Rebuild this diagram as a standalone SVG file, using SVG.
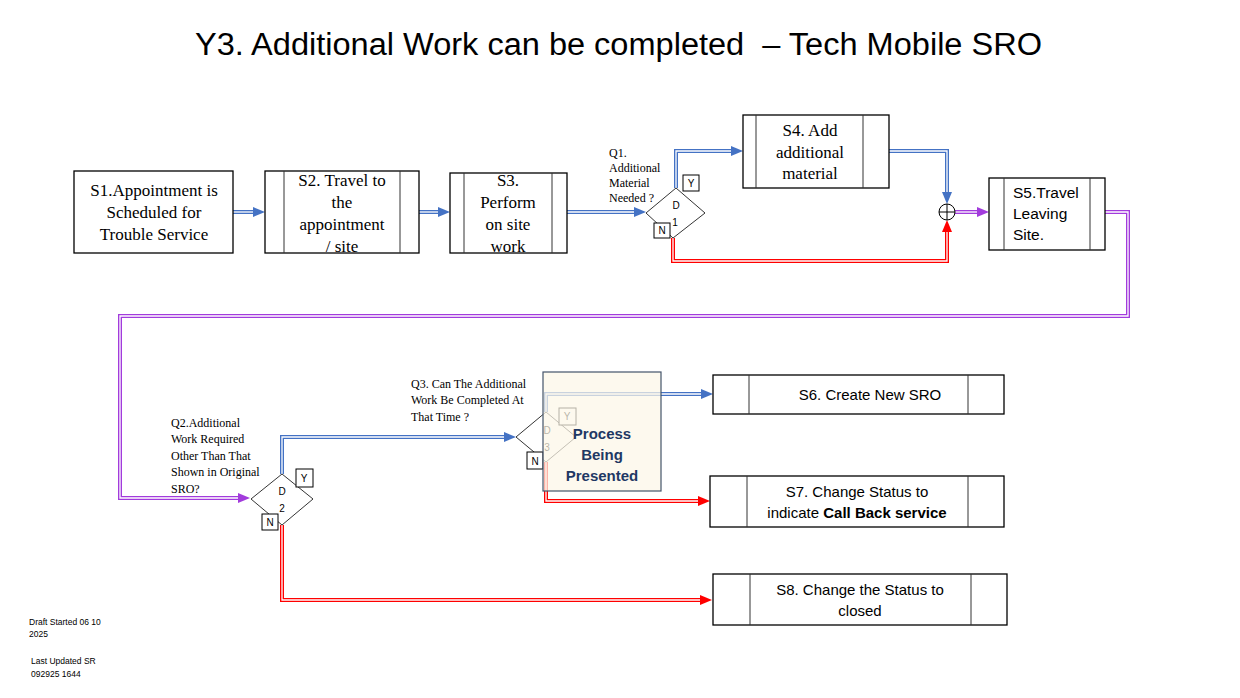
<svg xmlns="http://www.w3.org/2000/svg" width="1240" height="698" viewBox="0 0 1240 698">
<defs>
<style>
.box{fill:#fff;stroke:#000;stroke-width:1.3}
.inner{stroke:#333;stroke-width:1}
.serif{font-family:"Liberation Serif","Times New Roman",serif;font-size:17px;fill:#000;text-anchor:middle}
.q{font-family:"Liberation Serif","Times New Roman",serif;font-size:12px;fill:#000}
.sans{font-family:"Liberation Sans",Arial,sans-serif;fill:#000}
.dia{fill:#fff;stroke:#000;stroke-width:0.8}
.dl{font-family:"Liberation Sans",Arial,sans-serif;font-size:10px;fill:#000;text-anchor:middle}
.yn{fill:#fff;stroke:#000;stroke-width:1}
.ynt{font-family:"Liberation Sans",Arial,sans-serif;font-size:10px;fill:#000;text-anchor:middle}
.ob{fill:none;stroke:#4472C4;stroke-width:4}
.or{fill:none;stroke:#FF0000;stroke-width:4}
.op{fill:none;stroke:#A23BDC;stroke-width:4}
.in{fill:none;stroke:#fff;stroke-width:1.3}
.pt{font-family:"Liberation Sans",Arial,sans-serif;font-size:15px;font-weight:bold;fill:#1F3864;text-anchor:middle}
</style>
<marker id="ab" markerUnits="userSpaceOnUse" markerWidth="12" markerHeight="10" refX="0" refY="5" orient="auto"><path d="M0,0 L12,5 L0,10 z" fill="#4472C4"/></marker>
<marker id="ar" markerUnits="userSpaceOnUse" markerWidth="12" markerHeight="10" refX="0" refY="5" orient="auto"><path d="M0,0 L12,5 L0,10 z" fill="#FF0000"/></marker>
<marker id="ap" markerUnits="userSpaceOnUse" markerWidth="12" markerHeight="10" refX="0" refY="5" orient="auto"><path d="M0,0 L12,5 L0,10 z" fill="#A23BDC"/></marker>
</defs>
<rect width="1240" height="698" fill="#fff"/>
<text x="195" y="55" class="sans" font-size="31" textLength="847" lengthAdjust="spacingAndGlyphs" xml:space="preserve">Y3. Additional Work can be completed  – Tech Mobile SRO</text>

<g id="connectors">
<path class="ob" marker-end="url(#ab)" d="M233,212 H253"/><path class="in" d="M233,212 H253"/>
<path class="ob" marker-end="url(#ab)" d="M419,212 H438"/><path class="in" d="M419,212 H438"/>
<path class="ob" marker-end="url(#ab)" d="M567,212 H634"/><path class="in" d="M567,212 H634"/>
<path class="ob" marker-end="url(#ab)" d="M676,188 V151 H731"/><path class="in" d="M676,188 V151 H731"/>
<path class="ob" marker-end="url(#ab)" d="M889,151 H947 V192"/><path class="in" d="M889,151 H947 V192"/>
<path class="or" marker-end="url(#ar)" d="M673,238 V261 H947 V232"/><path class="in" d="M673,238 V261 H947 V232"/>
<path class="op" marker-end="url(#ap)" d="M955,212 H977"/><path class="in" d="M955,212 H977"/>
<path class="op" marker-end="url(#ap)" d="M1105,212 H1128 V316 H120 V498 H238"/><path class="in" d="M1105,212 H1128 V316 H120 V498 H238"/>
<path class="ob" marker-end="url(#ab)" d="M282,474 V437 H504"/><path class="in" d="M282,474 V437 H504"/>
<path class="or" marker-end="url(#ar)" d="M282,525 V600 H700"/><path class="in" d="M282,525 V600 H700"/>
<path class="ob" marker-end="url(#ab)" d="M546,412 V394 H701"/><path class="in" d="M546,412 V394 H701"/>
<path class="or" marker-end="url(#ar)" d="M546,462 V501 H698"/><path class="in" d="M546,462 V501 H698"/>
</g>

<g id="S1">
<rect class="box" x="74" y="171" width="159" height="82"/>
<text class="serif" x="154" y="196">S1.Appointment is</text>
<text class="serif" x="154" y="218">Scheduled for</text>
<text class="serif" x="154" y="240">Trouble Service</text>
</g>
<g id="S2">
<rect class="box" x="265" y="171" width="154" height="82"/>
<line class="inner" x1="284" y1="171" x2="284" y2="253"/><line class="inner" x1="400" y1="171" x2="400" y2="253"/>
<text class="serif" x="342" y="186">S2. Travel to</text>
<text class="serif" x="342" y="208">the</text>
<text class="serif" x="342" y="230">appointment</text>
<text class="serif" x="342" y="252">/ site</text>
</g>
<g id="S3">
<rect class="box" x="450" y="173" width="117" height="80"/>
<line class="inner" x1="464" y1="173" x2="464" y2="253"/><line class="inner" x1="552" y1="173" x2="552" y2="253"/>
<text class="serif" x="508" y="186">S3.</text>
<text class="serif" x="508" y="208">Perform</text>
<text class="serif" x="508" y="230">on site</text>
<text class="serif" x="508" y="252">work</text>
</g>
<g id="D1">
<polygon class="dia" points="646,213 676,188 705,213 673,238"/>
<text class="dl" x="676" y="209">D</text>
<text class="dl" x="675" y="226">1</text>
<rect class="yn" x="683" y="175" width="16" height="16"/><text class="ynt" x="691" y="187">Y</text>
<rect class="yn" x="654" y="223" width="16" height="15"/><text class="ynt" x="662" y="234">N</text>
<text class="q" x="609" y="157">Q1.</text>
<text class="q" x="609" y="172">Additional</text>
<text class="q" x="609" y="187">Material</text>
<text class="q" x="609" y="202">Needed ?</text>
</g>
<g id="S4">
<rect class="box" x="743" y="115" width="146" height="73"/>
<line class="inner" x1="756" y1="115" x2="756" y2="188"/><line class="inner" x1="863" y1="115" x2="863" y2="188"/>
<text class="serif" x="810" y="136">S4. Add</text>
<text class="serif" x="810" y="158">additional</text>
<text class="serif" x="810" y="179">material</text>
</g>
<g id="junction">
<circle cx="947" cy="212" r="8" fill="#fff" stroke="#000" stroke-width="1"/>
<line x1="939" y1="212" x2="955" y2="212" stroke="#000" stroke-width="1"/>
<line x1="947" y1="204" x2="947" y2="220" stroke="#000" stroke-width="1"/>
</g>
<g id="S5">
<rect class="box" x="989" y="178" width="116" height="72"/>
<line class="inner" x1="1004" y1="178" x2="1004" y2="250"/><line class="inner" x1="1090" y1="178" x2="1090" y2="250"/>
<text class="sans" font-size="15.5" x="1013" y="198">S5.Travel</text>
<text class="sans" font-size="15.5" x="1013" y="219">Leaving</text>
<text class="sans" font-size="15.5" x="1013" y="240">Site.</text>
</g>
<g id="D2">
<polygon class="dia" points="251,499 282,474 313,499 282,525"/>
<text class="dl" x="282" y="495">D</text>
<text class="dl" x="282" y="512">2</text>
<rect class="yn" x="296" y="469" width="17" height="18"/><text class="ynt" x="304" y="482">Y</text>
<rect class="yn" x="262" y="514" width="16" height="16"/><text class="ynt" x="270" y="526">N</text>
<text class="q" x="171" y="427">Q2.Additional</text>
<text class="q" x="171" y="443">Work Required</text>
<text class="q" x="171" y="460">Other Than That</text>
<text class="q" x="171" y="476">Shown in Original</text>
<text class="q" x="171" y="493">SRO?</text>
</g>
<g id="D3">
<polygon class="dia" points="516,437 546,412 576,437 546,462"/>
<text class="dl" x="547" y="434">D</text>
<text class="dl" x="547" y="451">3</text>
<rect class="yn" x="559" y="408" width="17" height="17"/><text class="ynt" x="567" y="420">Y</text>
<rect class="yn" x="527" y="452" width="16" height="17"/><text class="ynt" x="535" y="465">N</text>
<text class="q" x="411" y="388">Q3. Can The Additional</text>
<text class="q" x="411" y="404">Work Be Completed At</text>
<text class="q" x="411" y="421">That Time ?</text>
</g>
<g id="process">
<rect x="543" y="372" width="118" height="119" fill="#FCF6E8" fill-opacity="0.72" stroke="#44546A" stroke-width="1.2"/>
<text class="pt" x="602" y="439">Process</text>
<text class="pt" x="602" y="460">Being</text>
<text class="pt" x="602" y="481">Presented</text>
</g>
<g id="S6">
<rect class="box" x="713" y="375" width="291" height="39"/>
<line class="inner" x1="749" y1="375" x2="749" y2="414"/><line class="inner" x1="968" y1="375" x2="968" y2="414"/>
<text class="sans" font-size="15" text-anchor="middle" x="870" y="400">S6. Create New SRO</text>
</g>
<g id="S7">
<rect class="box" x="710" y="476" width="294" height="51"/>
<line class="inner" x1="747" y1="476" x2="747" y2="527"/><line class="inner" x1="968" y1="476" x2="968" y2="527"/>
<text class="sans" font-size="15" text-anchor="middle" x="857" y="497">S7. Change Status to</text>
<text class="sans" font-size="15" text-anchor="middle" x="857" y="518">indicate <tspan font-weight="bold">Call Back service</tspan></text>
</g>
<g id="S8">
<rect class="box" x="713" y="574" width="294" height="51"/>
<line class="inner" x1="750" y1="574" x2="750" y2="625"/><line class="inner" x1="971" y1="574" x2="971" y2="625"/>
<text class="sans" font-size="15" text-anchor="middle" x="860" y="595">S8. Change the Status to</text>
<text class="sans" font-size="15" text-anchor="middle" x="860" y="616">closed</text>
</g>
<g id="footer">
<text class="sans" font-size="8.5" x="29" y="625">Draft Started 06 10</text>
<text class="sans" font-size="8.5" x="29" y="637">2025</text>
<text class="sans" font-size="8.5" x="31" y="664">Last Updated SR</text>
<text class="sans" font-size="8.5" x="31" y="677">092925 1644</text>
</g>
</svg>
